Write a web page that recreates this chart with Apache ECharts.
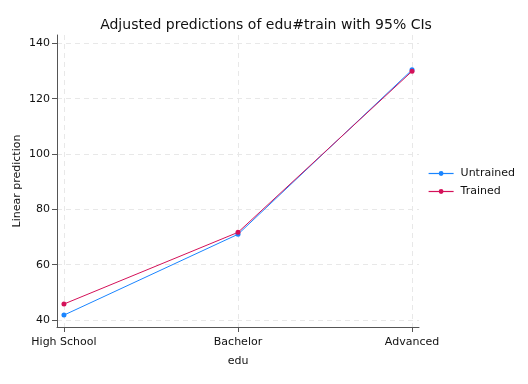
<!DOCTYPE html>
<html><head><meta charset="utf-8">
<script src="https://cdn.jsdelivr.net/npm/echarts@6/dist/echarts.min.js"></script>
<style>html,body{margin:0;padding:0;background:#fff}#c{width:528px;height:384px}</style>
</head><body><div id="c"></div>
<script>
const categories = ['High School', 'Bachelor', 'Advanced'];
const untrained = [41.8, 71.0, 130.4];
const trained = [45.8, 71.7, 129.9];
const yTicks = [40, 60, 80, 100, 120, 140];
const seriesNames = ['Untrained', 'Trained'];
const colors = ['#1a85ff', '#d41159'];

const chart = echarts.init(document.getElementById('c'), null, {renderer: 'canvas'});
const font = 'DejaVu Sans';
const catIdx = categories.map((c, i) => i);
const mk = arr => arr.map((v, i) => [i, v]);
chart.setOption({
  animation: false,
  backgroundColor: '#fff',
  textStyle: {fontFamily: font},
  title: {
    text: 'Adjusted predictions of edu#train with 95% CIs',
    left: 261, top: 13, textAlign: 'center',
    textStyle: {fontFamily: font, fontSize: 14, fontWeight: 'normal', color: '#111'}
  },
  legend: {
    orient: 'vertical', left: 428, top: 168, padding: 0,
    itemWidth: 25, itemHeight: 6, itemGap: 7,
    textStyle: {fontFamily: font, fontSize: 11, color: '#111', padding: [0, 0, 0, 2]},
    data: seriesNames.map((n, i) => ({name: n, itemStyle: {color: colors[i]}, lineStyle: {color: colors[i], width: 1.2}}))
  },
  grid: {left: 57, right: 109, top: 35, bottom: 57, containLabel: false},
  xAxis: {
    type: 'value', min: -0.04, max: 2.04,
    name: 'edu', nameLocation: 'middle', nameGap: 29, nameMoveOverlap: false,
    nameTextStyle: {fontFamily: font, fontSize: 11, color: '#111'},
    axisLine: {show: true, onZero: false, lineStyle: {color: '#555', width: 1}},
    axisTick: {show: true, customValues: catIdx, length: 5, lineStyle: {color: '#555'}},
    axisLabel: {customValues: catIdx, formatter: v => categories[Math.round(v)], fontFamily: font, fontSize: 11, color: '#111', margin: 10},
    splitLine: {show: true, lineStyle: {color: '#e8e8e8', type: [5, 4], width: 1}}
  },
  yAxis: {
    type: 'value', min: 37.5, max: 143,
    name: 'Linear prediction', nameLocation: 'middle', nameGap: 34, nameMoveOverlap: false,
    nameTextStyle: {fontFamily: font, fontSize: 11, color: '#111'},
    axisLine: {show: true, onZero: false, lineStyle: {color: '#555', width: 1}},
    axisTick: {show: true, customValues: yTicks, length: 5, lineStyle: {color: '#555'}},
    axisLabel: {customValues: yTicks, fontFamily: font, fontSize: 11, color: '#111', margin: 7},
    splitLine: {show: true, lineStyle: {color: '#e8e8e8', type: [5, 4], width: 1}}
  },
  series: [
    {name: seriesNames[0], type: 'line', data: mk(untrained), symbol: 'circle', symbolSize: 5,
     itemStyle: {color: colors[0]}, lineStyle: {color: colors[0], width: 1}},
    {name: seriesNames[1], type: 'line', data: mk(trained), symbol: 'circle', symbolSize: 5,
     itemStyle: {color: colors[1]}, lineStyle: {color: colors[1], width: 1}}
  ]
});
</script></body></html>
